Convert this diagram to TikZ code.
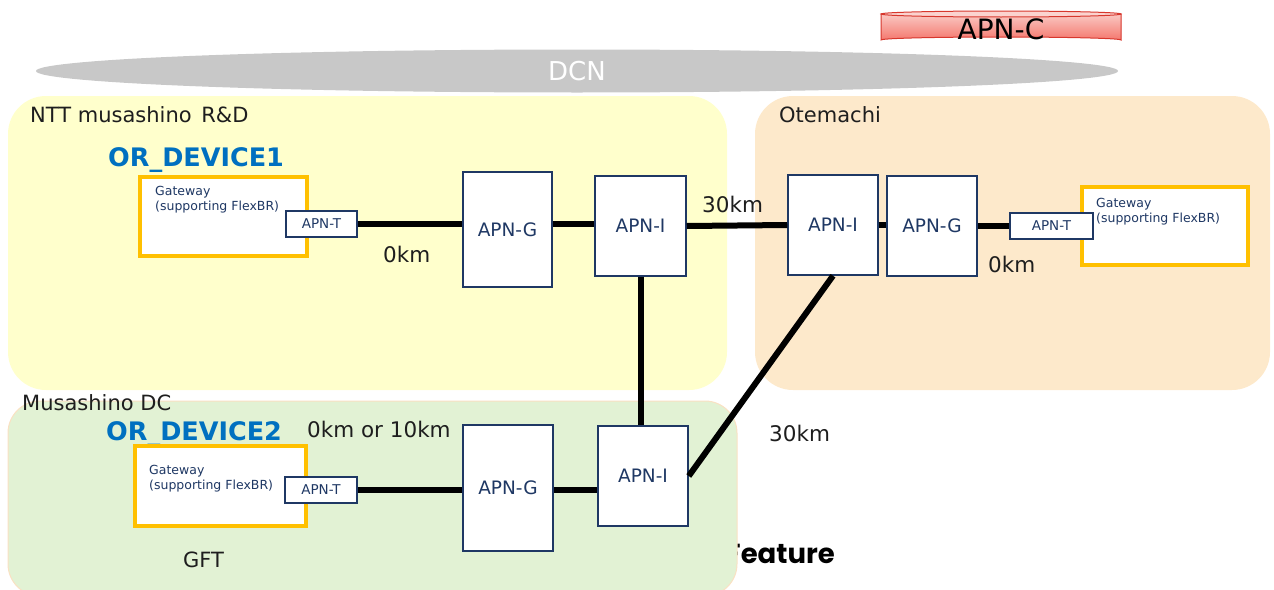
\documentclass[tikz,border=0pt]{standalone}
\usepackage{fontspec}
\setmainfont{DejaVu Sans}
\newfontfamily\featfont{Poppins}
\usetikzlibrary{shapes.geometric}

\definecolor{navy}{RGB}{31,56,100}
\definecolor{gold}{RGB}{255,192,0}
\definecolor{devblue}{RGB}{0,112,192}
\definecolor{dcngray}{RGB}{200,200,200}
\definecolor{labfill}{RGB}{255,255,204}
\definecolor{otefill}{RGB}{253,233,203}
\definecolor{dcfill}{RGB}{226,242,212}
\definecolor{dcedge}{RGB}{250,225,195}
\definecolor{ctop}{RGB}{250,200,195}
\definecolor{cbot}{RGB}{244,120,110}
\definecolor{cedge}{RGB}{215,55,45}
\definecolor{ink}{RGB}{30,30,30}

\newcommand\fs[1]{\fontsize{#1}{#1}\selectfont}

\begin{document}
\begin{tikzpicture}[x=1pt,y=-1pt,
  apnbox/.style={draw=navy, line width=1.5pt, fill=white, text=navy,
                 inner sep=0pt, font=\fs{18.5}},
  tbox/.style={apnbox, font=\fs{13.5}},
  gwbox/.style={draw=gold, line width=3.2pt, fill=white, inner sep=0pt},
  gwtext/.style={anchor=base west, inner sep=0pt, align=left, text=navy,
                 font=\fontsize{12.5}{15}\selectfont},
  link/.style={line width=6pt, black},
  site/.style={anchor=base west, inner sep=0pt, font=\fs{21}, text=ink},
  dist/.style={anchor=base west, inner sep=0pt, font=\fs{21.5}, text=ink},
  device/.style={anchor=base west, inner sep=0pt, font=\bfseries\fs{25.5}, text=devblue},
  region/.style={rounded corners=38pt}
]
\useasboundingbox (0,0) rectangle (1274,589);

% DCN
\node[ellipse, fill=dcngray, inner sep=0pt, minimum width=1082pt, minimum height=43pt,
      text=white, font=\fs{26}] (dcn) at (577,71) {DCN};

% APN-C disk
\path[top color=ctop, bottom color=cbot, draw=cedge, line width=1pt]
  (881,14) -- (881,40) arc[start angle=180, end angle=0, x radius=120pt, y radius=3pt]
  -- (1121,14) -- cycle;
\draw[cedge, fill=ctop!80!white, line width=1pt] (1001,14) ellipse[x radius=120pt, y radius=3pt];
\node[inner sep=0pt, font=\fs{28}, text=black] (apnc) at (1001,29) {APN-C};

% text partly hidden behind the data-centre area
\node[anchor=base east, inner sep=0pt, font=\featfont\bfseries\fs{27.5}, text=black]
  (feat) at (835,563) {Feature};

% sites
\fill[labfill, region] (8,96) rectangle (727,390);
\fill[otefill, region] (755,96) rectangle (1270,390);
\filldraw[fill=dcfill, draw=dcedge, line width=1pt, rounded corners=32pt] (8,401) rectangle (737,596);

\node[site] (labname) at (30,122) {NTT musashino\hspace{3pt} R\&D};
\node[site] (otename) at (779,122) {Otemachi};
\node[site] (dcname) at (22,410) {Musashino DC};
\node[site] (gft) at (183,567) {GFT};

\node[device] (dev1) at (108,166) {OR\_DEVICE1};
\node[device] (dev2) at (106,440) {OR\_DEVICE2};

% gateways
\node[gwbox, minimum width=167pt, minimum height=79pt] (gw1) at (223.5,216.5) {};
\node[gwtext] at (155,210) {Gateway\\(supporting FlexBR)};
\node[gwbox, minimum width=171pt, minimum height=80pt] (gw2) at (220.5,486) {};
\node[gwtext] at (149,489) {Gateway\\(supporting FlexBR)};
\node[gwbox, minimum width=166pt, minimum height=78pt] (gw3) at (1165,226) {};
\node[gwtext] at (1096,222) {Gateway\\(supporting FlexBR)};

% APN nodes
\node[tbox, minimum width=71pt, minimum height=26pt] (t1) at (321.5,224) {APN-T};
\node[tbox, minimum width=72pt, minimum height=26pt] (t2) at (321,490) {APN-T};
\node[tbox, minimum width=83pt, minimum height=26pt] (t3) at (1051.5,226) {APN-T};

\node[apnbox, minimum width=89pt, minimum height=115pt] (g1) at (507.5,229.5) {APN-G};
\node[apnbox, minimum width=90pt, minimum height=126pt] (g2) at (508,488) {APN-G};
\node[apnbox, minimum width=90pt, minimum height=100pt] (g3) at (932,226) {APN-G};

\node[apnbox, minimum width=91pt, minimum height=100pt] (i1) at (640.5,226) {APN-I};
\node[apnbox, minimum width=90pt, minimum height=100pt] (i2) at (643,476) {APN-I};
\node[apnbox, minimum width=90pt, minimum height=100pt] (i3) at (833,225) {APN-I};

% links
\draw[link] (t1.east) -- (t1.east -| g1.west);
\draw[link] (g1.east |- t1.east) -- (t1.east -| i1.west);
\draw[link] (i1.east) -- (i3.west);
\draw[link] (i3.east) -- (i3.east -| g3.west);
\draw[link] (g3.east) -- (t3.west);
\draw[link] (i1.south) -- (i1.south |- i2.north);
\draw[link] (i3.south) -- (i2.east);
\draw[link] (t2.east) -- (t2.east -| g2.west);
\draw[link] (g2.east |- t2.east) -- (t2.east -| i2.west);

% distances
\node[dist] (d1) at (383,262) {0km};
\node[dist] (d2) at (702,212) {30km};
\node[dist] (d3) at (988,272) {0km};
\node[dist] (d4) at (769,441) {30km};
\node[dist] (d5) at (307,437) {0km or 10km};
\end{tikzpicture}
\end{document}
